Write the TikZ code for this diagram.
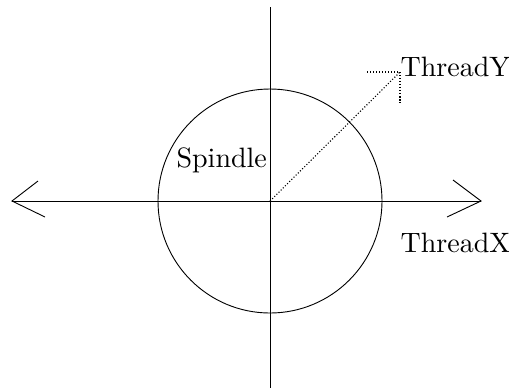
\documentclass[tikz,border=0pt]{standalone}
\begin{document}
\begin{tikzpicture}[x=0.364pt,y=-0.364pt,
  axis/.style={draw=black,line width=0.33pt},
  dotline/.style={draw=black,line width=0.4pt,dash pattern=on 0.4pt off 0.7pt},
  lbl/.style={inner sep=0pt,anchor=base west,font=\fontsize{10.2}{12}\selectfont}]
\useasboundingbox (0,0) rectangle (509,390);
% coordinates
\coordinate (c) at (270,201);
\coordinate (top) at (270,7);
\coordinate (bot) at (270,388);
\coordinate (ltip) at (12,201);
\coordinate (rtip) at (481,201);
\coordinate (la1) at (38,181);
\coordinate (la2) at (45,217);
\coordinate (ra1) at (453,180);
\coordinate (ra2) at (447,217);
\coordinate (ytip) at (400,72);
\coordinate (ya1) at (367,72);
\coordinate (ya2) at (400,103);
% circle
\draw[axis] (c) circle[radius=112];
% axes
\draw[axis] (top) -- (bot);
\draw[axis] (ltip) -- (rtip);
\draw[axis] (la1) -- (ltip) -- (la2);
\draw[axis] (ra1) -- (rtip) -- (ra2);
% dotted arrow
\draw[dotline] (c) -- (ytip);
\draw[dotline] (ya1) -- (ytip) -- (ya2);
% labels
\node[lbl] (ty) at (400,76) {ThreadY};
\node[lbl] (tx) at (400,252) {ThreadX};
\node[lbl] (sp) at (176,167) {Spindle};
\end{tikzpicture}
\end{document}
